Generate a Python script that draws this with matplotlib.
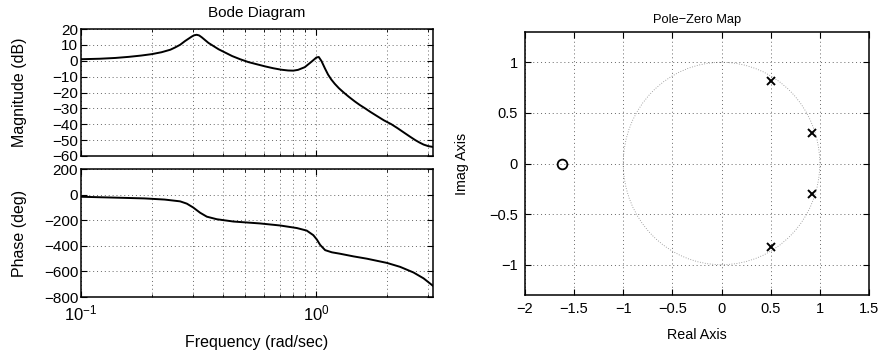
"""Bode diagram and pole-zero map of a discrete-time system."""
import matplotlib

matplotlib.use("Agg")
import matplotlib.pyplot as plt
import numpy as np
from matplotlib.patches import Circle
from matplotlib.ticker import FixedLocator, FuncFormatter, NullFormatter

plt.rcParams["font.family"] = ["Liberation Sans", "DejaVu Sans"]

# values
freq_mag = [0.1, 0.12, 0.14, 0.16, 0.18, 0.2, 0.22, 0.24, 0.2513, 0.264, 0.2773,
            0.296, 0.303, 0.3105, 0.318, 0.3264, 0.3483, 0.3845, 0.4393, 0.475,
            0.515, 0.56, 0.61, 0.658, 0.71, 0.76, 0.8, 0.838, 0.895, 0.955, 1.003,
            1.026, 1.054, 1.09, 1.124, 1.16, 1.2, 1.25, 1.31, 1.38, 1.46, 1.535,
            1.616, 1.7, 1.8, 1.94, 2.09, 2.22, 2.35, 2.5, 2.64, 2.75, 2.863, 3.0,
            3.1416]
mag_db = [1.0, 1.3, 1.8, 2.5, 3.3, 4.2, 5.4, 7.0, 8.4, 10.1, 12.5,
          15.3, 16.1, 16.4, 16.0, 14.8, 11.3, 7.3, 3.0, 1.0,
          -0.8, -2.2, -3.6, -4.7, -5.6, -6.1, -6.2, -5.7, -4.0, -0.6, 2.1,
          2.4, -0.2, -4.8, -8.7, -11.8, -14.5, -17.3, -20.0, -22.8, -25.6, -27.9,
          -30.0, -32.2, -34.5, -37.5, -40.0, -42.5, -45.0, -47.7, -50.0, -51.5, -52.8, -53.8,
          -54.3]

freq_phase = [0.1, 0.1345, 0.1866, 0.227, 0.264, 0.282, 0.3, 0.321, 0.343, 0.378,
              0.445, 0.578, 0.703, 0.828, 0.912, 0.973, 1.006, 1.04, 1.092, 1.166,
              1.262, 1.442, 1.644, 2.0, 2.276, 2.594, 2.863, 3.1416]
phase_deg = [-15, -21, -28, -37, -51, -69, -99, -140, -171, -191,
             -209, -224, -240, -260, -280, -316, -349, -392, -433, -450,
             -461, -482, -500, -533, -564, -608, -654, -713]

pole_re = [0.5, 0.5, 0.92, 0.92]
pole_im = [0.82, -0.82, 0.30, -0.30]
zero_re = [-1.62]
zero_im = [0.0]


def minus(v, _pos=None):
    return ("%g" % v).replace("-", "\u2212")


def matlab_axes(ax):
    ax.tick_params(which="both", direction="in", top=True, right=True, labelsize=11)
    ax.tick_params(which="major", length=4)
    ax.tick_params(which="minor", length=2)
    for s in ax.spines.values():
        s.set_linewidth(1.1)
    ax.grid(True, which="both", linestyle=(0, (1, 3)), color="#666666", linewidth=0.7)


fig = plt.figure(figsize=(8.82, 3.59), dpi=100, facecolor="w")

ax_mag = fig.add_axes([0.0918, 0.5655, 0.3992, 0.3535])
ax_ph = fig.add_axes([0.0918, 0.1727, 0.3992, 0.3557])
ax_pz = fig.add_axes([0.5952, 0.178, 0.390, 0.733])

# magnitude
ax_mag.semilogx(freq_mag, mag_db, color="k", linewidth=1.4)
ax_mag.set_xlim(0.1, np.pi)
ax_mag.set_ylim(-60, 20)
ax_mag.set_yticks(range(-60, 21, 10))
ax_mag.yaxis.set_major_formatter(FuncFormatter(minus))
ax_mag.xaxis.set_major_formatter(NullFormatter())
ax_mag.xaxis.set_minor_formatter(NullFormatter())
ax_mag.set_ylabel("Magnitude (dB)", fontsize=11.5)
ax_mag.yaxis.set_label_coords(-0.153, 0.5)
ax_mag.set_title("Bode Diagram", fontsize=11, pad=8.4)
matlab_axes(ax_mag)
ax_mag.tick_params(axis="y", pad=2)

# phase
ax_ph.semilogx(freq_phase, phase_deg, color="k", linewidth=1.4)
ax_ph.set_xlim(0.1, np.pi)
ax_ph.set_ylim(-800, 200)
ax_ph.set_yticks(range(-800, 201, 200))
ax_ph.yaxis.set_major_formatter(FuncFormatter(minus))
ax_ph.xaxis.set_minor_formatter(NullFormatter())
ax_ph.set_xlabel("Frequency (rad/sec)", fontsize=11.5)
ax_ph.xaxis.set_label_coords(0.5, -0.3)
ax_ph.set_ylabel("Phase (deg)", fontsize=11.5)
ax_ph.yaxis.set_label_coords(-0.153, 0.5)
matlab_axes(ax_ph)
ax_ph.tick_params(axis="y", pad=2)
ax_ph.tick_params(axis="x", labelsize=12, pad=5)

# pole-zero map
ax_pz.add_patch(Circle((0, 0), 1, fill=False, linestyle=(0, (1, 2)),
                       edgecolor="#888888", linewidth=0.6))
ax_pz.plot(pole_re, pole_im, "x", color="k", markersize=6, markeredgewidth=1.4)
ax_pz.plot(zero_re, zero_im, "o", color="k", markerfacecolor="none",
           markersize=7, markeredgewidth=1.3)
ax_pz.set_xlim(-2, 1.5)
ax_pz.set_ylim(-1.3, 1.3)
ax_pz.xaxis.set_major_locator(FixedLocator(np.arange(-2, 1.51, 0.5)))
ax_pz.yaxis.set_major_locator(FixedLocator([-1, -0.5, 0, 0.5, 1]))
ax_pz.xaxis.set_major_formatter(FuncFormatter(minus))
ax_pz.yaxis.set_major_formatter(FuncFormatter(minus))
ax_pz.set_xlabel("Real Axis", fontsize=10.3)
ax_pz.xaxis.set_label_coords(0.5, -0.125)
ax_pz.set_ylabel("Imag Axis", fontsize=10.3)
ax_pz.yaxis.set_label_coords(-0.163, 0.5)
ax_pz.set_title("Pole\u2212Zero Map", fontsize=9.3, pad=6.3)
matlab_axes(ax_pz)
ax_pz.tick_params(labelsize=10.5, pad=5)

fig.savefig("out.png", dpi=100)
